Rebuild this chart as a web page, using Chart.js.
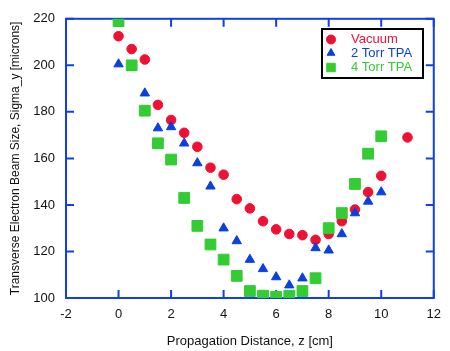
<!DOCTYPE html>
<html>
<head>
<meta charset="utf-8">
<script src="https://cdn.jsdelivr.net/npm/chart.js@4/dist/chart.umd.min.js"></script>
<style>
  html, body { margin: 0; padding: 0; background: #fff; }
  #wrap { width: 450px; height: 351px; position: relative; }
</style>
</head>
<body>
<div id="wrap"><canvas id="beamChart"></canvas></div>
<script>
// ==========================
// DATA
// ==========================
const vacuumZ = [0, 0.5, 1, 1.5, 2, 2.5, 3, 3.5, 4, 4.5, 5, 5.5, 6, 6.5, 7, 7.5, 8, 8.5, 9, 9.5, 10, 11];
const vacuumSigma = [212.5, 207, 202.5, 183, 176.5, 171, 165, 156, 153, 142.5, 138.5, 133, 129.5, 127.5, 127, 125, 127.5, 133, 138, 145.5, 152.5, 169];

const torr2Z = [0, 0.5, 1, 1.5, 2, 2.5, 3, 3.5, 4, 4.5, 5, 5.5, 6, 6.5, 7, 7.5, 8, 8.5, 9, 9.5, 10];
const torr2Sigma = [200.5, 199, 188, 173, 173.5, 166.5, 158, 148, 130, 124.5, 116.5, 112.5, 109, 105.5, 108.5, 121.5, 120.5, 127.5, 136.5, 141.5, 145.5];

const torr4Z = [0, 0.5, 1, 1.5, 2, 2.5, 3, 3.5, 4, 4.5, 5, 5.5, 6, 6.5, 7, 7.5, 8, 8.5, 9, 9.5, 10];
const torr4Sigma = [219, 200, 180.5, 166.5, 159.5, 143, 131, 123, 116.5, 109.5, 103, 101, 100.5, 101, 103, 108.5, 130, 136.5, 149, 162, 169.5];

const seriesNames = ["Vacuum", "2 Torr TPA", "4 Torr TPA"];
const xTicks = [-2, 0, 2, 4, 6, 8, 10, 12];
const yTicks = [100, 120, 140, 160, 180, 200, 220];

// ==========================
// STYLE
// ==========================
const FONT = "'Liberation Sans', Arial, sans-serif";
const AXIS_BLUE = "#1040e6";
const RED = "#ee1133";
const BLUE = "#0a3fe0";
const GREEN = "#33cc33";

function toPoints(xs, ys) {
  return xs.map((x, i) => ({ x: x, y: ys[i] }));
}

// frame + inward ticks on all four sides
const framePlugin = {
  id: "frame",
  beforeDatasetsDraw(chart) {
    const { ctx, chartArea: a, scales } = chart;
    const len = 8;
    ctx.save();
    ctx.strokeStyle = AXIS_BLUE;
    ctx.lineWidth = 2;
    ctx.strokeRect(a.left, a.top, a.right - a.left, a.bottom - a.top);
    ctx.beginPath();
    xTicks.forEach((v) => {
      const px = scales.x.getPixelForValue(v);
      ctx.moveTo(px, a.bottom);
      ctx.lineTo(px, a.bottom - len);
      ctx.moveTo(px, a.top);
      ctx.lineTo(px, a.top + len);
    });
    yTicks.forEach((v) => {
      const py = scales.y.getPixelForValue(v);
      ctx.moveTo(a.left, py);
      ctx.lineTo(a.left + len, py);
      ctx.moveTo(a.right, py);
      ctx.lineTo(a.right - len, py);
    });
    ctx.stroke();
    ctx.restore();
  },
};

// boxed legend inside the plot
const boxLegend = {
  id: "boxLegend",
  afterDraw(chart) {
    const ctx = chart.ctx;
    const x0 = 322, y0 = 29, w = 101, h = 49;
    const rowsY = [39.5, 53, 67.5];
    ctx.save();
    ctx.fillStyle = "#fff";
    ctx.fillRect(x0, y0, w, h);
    ctx.strokeStyle = "#000";
    ctx.lineWidth = 2;
    ctx.strokeRect(x0, y0, w, h);
    chart.data.datasets.forEach((ds, i) => {
      ctx.fillStyle = ds.backgroundColor;
      ctx.strokeStyle = ds.borderColor;
      ctx.lineWidth = 1;
      Chart.helpers.drawPoint(ctx, {
        pointStyle: ds.pointStyle,
        radius: ds.pointStyle === "rect" ? 6 : 4.5,
        borderWidth: 1,
        rotation: 0,
      }, 331, rowsY[i]);
      ctx.fillStyle = ds.borderColor;
      ctx.font = "13px " + FONT;
      ctx.textBaseline = "middle";
      ctx.textAlign = "left";
      ctx.fillText(seriesNames[i], 351, rowsY[i]);
    });
    ctx.restore();
  },
};

new Chart(document.getElementById("beamChart"), {
  type: "scatter",
  data: {
    datasets: [
      {
        label: seriesNames[0],
        data: toPoints(vacuumZ, vacuumSigma),
        pointStyle: "circle",
        pointRadius: 4.8,
        backgroundColor: RED,
        borderColor: RED,
        borderWidth: 1,
        order: 3,
      },
      {
        label: seriesNames[1],
        data: toPoints(torr2Z, torr2Sigma),
        pointStyle: "triangle",
        pointRadius: 5.4,
        backgroundColor: BLUE,
        borderColor: BLUE,
        borderWidth: 1,
        order: 2,
      },
      {
        label: seriesNames[2],
        data: toPoints(torr4Z, torr4Sigma),
        pointStyle: "rect",
        pointRadius: 7.6,
        backgroundColor: GREEN,
        borderColor: GREEN,
        borderWidth: 1,
        order: 1,
      },
    ],
  },
  options: {
    responsive: true,
    maintainAspectRatio: false,
    animation: false,
    layout: { padding: { top: 11, right: 6, left: 0, bottom: 0 } },
    plugins: {
      legend: { display: false },
      tooltip: { enabled: false },
    },
    scales: {
      x: {
        type: "linear",
        min: -2,
        max: 12,
        afterBuildTicks: (s) => { s.ticks = xTicks.map((v) => ({ value: v })); },
        afterFit: (s) => { s.height = 53; },
        grid: { display: false, drawTicks: false },
        border: { display: false },
        ticks: { color: "#111", font: { family: FONT, size: 13 }, padding: 9, maxRotation: 0 },
        title: {
          display: true,
          text: "Propagation Distance, z [cm]",
          color: "#111",
          font: { family: FONT, size: 13 },
          padding: { top: 0, bottom: 2 },
        },
      },
      y: {
        type: "linear",
        min: 100,
        max: 220,
        afterBuildTicks: (s) => { s.ticks = yTicks.map((v) => ({ value: v })); },
        afterFit: (s) => { s.width = 66; },
        grid: { display: false, drawTicks: false },
        border: { display: false },
        ticks: { color: "#111", font: { family: FONT, size: 13 }, padding: 11 },
        title: {
          display: true,
          text: "Transverse Electron Beam Size, Sigma_y [microns]",
          color: "#111",
          font: { family: FONT, size: 12 },
          padding: { top: 8, bottom: 0 },
        },
      },
    },
  },
  plugins: [framePlugin, boxLegend],
});
</script>
</body>
</html>
